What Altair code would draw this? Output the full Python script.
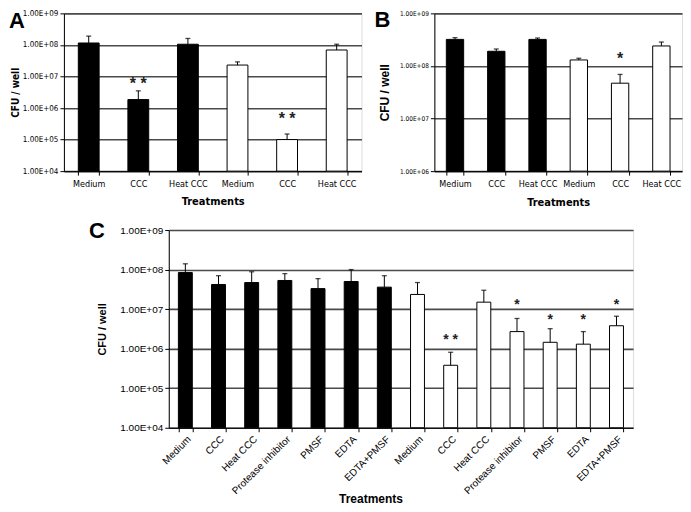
import altair as alt
import pandas as pd
import json

# ---------------- data ----------------
y_tick_text = ["1.00E+04", "1.00E+05", "1.00E+06", "1.00E+07", "1.00E+08", "1.00E+09"]

a_labels = ["Medium", "CCC", "Heat CCC", "Medium", "CCC", "Heat CCC"]
a_group = ["filled", "filled", "filled", "open", "open", "open"]
a_values = [1.15e8, 1.85e6, 1.05e8, 2.3e7, 1.0e5, 6.9e7]
a_upper = [1.9e8, 3.5e6, 1.6e8, 2.9e7, 1.5e5, 1.05e8]
a_sig = ["", "* *", "", "", "* *", ""]
a_sig_y = [None, 5.9e6, None, None, 4.6e5, None]

b_labels = ["Medium", "CCC", "Heat CCC", "Medium", "CCC", "Heat CCC"]
b_group = ["filled", "filled", "filled", "open", "open", "open"]
b_values = [3.2e8, 1.9e8, 3.2e8, 1.3e8, 4.7e7, 2.4e8]
b_upper = [3.45e8, 2.1e8, 3.4e8, 1.4e8, 6.9e7, 2.85e8]
b_sig = ["", "", "", "", "*", ""]
b_sig_y = [None, None, None, None, 1.34e8, None]

c_labels = ["Medium", "CCC", "Heat CCC", "Protease inhibitor", "PMSF", "EDTA", "EDTA+PMSF",
            "Medium", "CCC", "Heat CCC", "Protease inhibitor", "PMSF", "EDTA", "EDTA+PMSF"]
c_group = ["filled"] * 7 + ["open"] * 7
c_values = [8.4e7, 4.2e7, 4.7e7, 5.3e7, 3.3e7, 5.0e7, 3.6e7,
            2.35e7, 3.8e5, 1.5e7, 2.7e6, 1.45e6, 1.3e6, 3.8e6]
c_upper = [1.4e8, 7.0e7, 8.8e7, 7.9e7, 5.9e7, 1.0e8, 7.0e7,
           4.7e7, 8.1e5, 3.0e7, 5.8e6, 3.2e6, 2.7e6, 6.6e6]
c_sig = ["", "", "", "", "", "", "", "", "* *", "", "*", "*", "*", "*"]
c_sig_y = [None] * 8 + [1.65e6, None, 1.3e7, 5.3e6, 5.3e6, 1.3e7]

NARROW = "Liberation Sans Narrow, DejaVu Sans Condensed, Arial Narrow, sans-serif"
SANS = "Liberation Sans, Arial, sans-serif"


def panel(letter, labels, group, values, upper, sig, sig_y, ydom, width, height,
          letter_dx, letter_dy, style):
    df = pd.DataFrame({
        "idx": list(range(len(labels))),
        "grp": group,
        "value": values,
        "upper": upper,
        "sig": sig,
        "sig_y": sig_y,
    })
    lab_expr = json.dumps(labels) + "[datum.value]"
    ticks = [10.0 ** k for k in range(ydom[0], ydom[1] + 1)]
    ytxt_expr = json.dumps(y_tick_text) + "[round(log(datum.value)/LN10) - 4]"

    xscale = alt.Scale(paddingInner=0.58, paddingOuter=0.29)
    yscale = alt.Scale(type="log", domain=[10.0 ** ydom[0], 10.0 ** ydom[1]])

    xaxis_kw = dict(
        title="Treatments", labelExpr=lab_expr, labelAngle=style["xangle"],
        labelAlign=style["xalign"], labelBaseline=style["xbaseline"],
        labelFont=style["xfont"], labelFontSize=style["xsize"], labelColor="black",
        titleFont=style["xtfont"], titleFontSize=style["xtsize"], titleFontWeight="bold",
        titleColor="black", titlePadding=style["xtpad"], tickBand="extent", tickSize=4,
        tickColor="black", domainColor="black", labelPadding=style["xlpad"],
        grid=False,
    )
    if "titleX" in style:
        xaxis_kw["titleX"] = style["titleX"]
        xaxis_kw["titleY"] = style["titleY"]
    xaxis = alt.Axis(**xaxis_kw)
    yaxis = alt.Axis(
        title="CFU / well", values=ticks, labelExpr=ytxt_expr,
        labelFont=style["yfont"], labelFontSize=style["ysize"], labelColor="black",
        titleFont=style["ytfont"], titleFontSize=style["ytsize"], titleFontWeight="bold",
        titleColor="black", titlePadding=style["ytpad"], tickSize=4, tickColor="black",
        domainColor="black", grid=True, gridColor="#4a4a4a", gridWidth=1.6,
        labelPadding=2,
    )

    base = alt.Chart(df)
    bars = base.mark_bar(stroke="black", strokeWidth=1).encode(
        x=alt.X("idx:O", scale=xscale, axis=xaxis),
        y=alt.Y("value:Q", scale=yscale, axis=yaxis),
        y2=alt.datum(10.0 ** ydom[0]),
        color=alt.Color("grp:N", scale=alt.Scale(domain=["filled", "open"],
                                                 range=["black", "white"]), legend=None),
    )
    err = base.mark_rule(color="black", strokeWidth=1).encode(
        x=alt.X("idx:O"), y=alt.Y("value:Q"), y2="upper:Q")
    cap = base.mark_tick(color="black", thickness=1.3, size=5, orient="horizontal").encode(
        x=alt.X("idx:O"), y=alt.Y("upper:Q"))
    stars = base.transform_filter("datum.sig != ''").mark_text(
        fontSize=style["starsize"], font=SANS, fontWeight="bold", color="#222",
        baseline="middle").encode(
        x=alt.X("idx:O"), y=alt.Y("sig_y:Q"), text="sig:N")
    let = alt.Chart(pd.DataFrame({"t": [letter]})).mark_text(
        align="left", baseline="top", fontSize=22, fontWeight="bold", font=SANS,
        color="black").encode(text="t:N", x=alt.value(letter_dx), y=alt.value(letter_dy))
    return alt.layer(bars, err, cap, stars, let).properties(width=width, height=height)


style_a = dict(xangle=0, xalign="center", xbaseline="top", xfont=NARROW, xsize=9,
               xtfont=NARROW, xtsize=11, xtpad=7, xlpad=4,
               yfont=NARROW, ysize=8, ytfont=NARROW, ytsize=10, ytpad=2, starsize=16)
style_b = dict(xangle=0, xalign="center", xbaseline="top", xfont=NARROW, xsize=9,
               xtfont=NARROW, xtsize=11, xtpad=8, xlpad=4,
               yfont=NARROW, ysize=6.5, ytfont=SANS, ytsize=12, ytpad=8, starsize=16)
style_c = dict(xangle=-45, xalign="right", xbaseline="top", xfont=SANS, xsize=10,
               xtfont=SANS, xtsize=12, xtpad=2, xlpad=2, titleX=202, titleY=66,
               yfont=SANS, ysize=10, ytfont=SANS, ytsize=11, ytpad=12, starsize=14)

A = panel("A", a_labels, a_group, a_values, a_upper, a_sig, a_sig_y, (4, 9), 298, 158,
          -55, -2, style_a)
B = panel("B", b_labels, b_group, b_values, b_upper, b_sig, b_sig_y, (6, 9), 248, 158,
          -60, -3, style_b)
C = panel("C", c_labels, c_group, c_values, c_upper, c_sig, c_sig_y, (4, 9), 465, 198,
          -80, -9, style_c)

# empty, invisible view that shifts panel C to the right in the bottom row
spacer = alt.Chart(pd.DataFrame({"a": [0]})).mark_point(opacity=0).encode(
    x=alt.value(0), y=alt.value(0)).properties(
    width=24, height=1,
    view=alt.ViewBackground(stroke="transparent", strokeOpacity=0, fill="transparent"))

chart = alt.vconcat(
    alt.hconcat(A, B, spacing=11),
    alt.hconcat(spacer, C, spacing=0),
    spacing=11,
    padding=0,
).configure_view(strokeWidth=0, stroke="transparent").configure(background="white")

chart.save("out.html", embed_options={"renderer": "svg", "actions": False})
